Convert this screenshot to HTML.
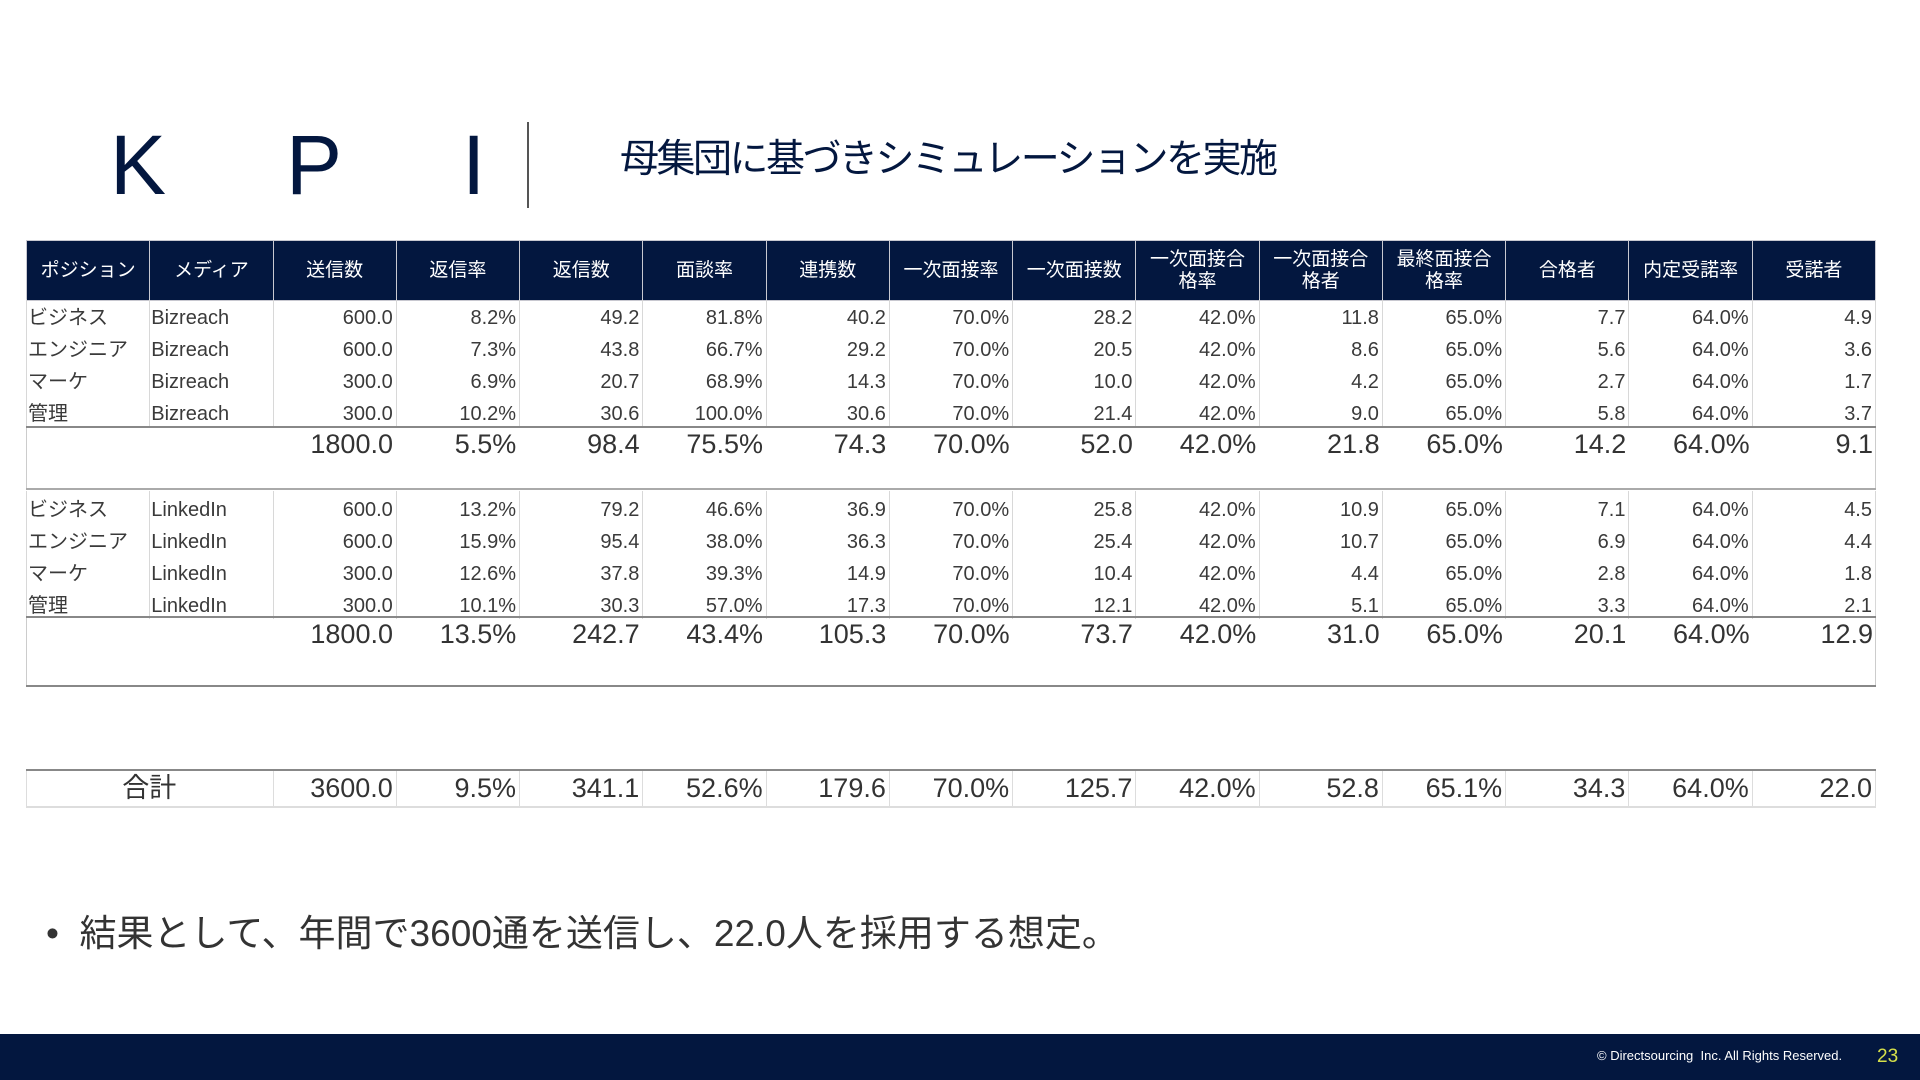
<!DOCTYPE html>
<html><head><meta charset="utf-8"><style>
body{margin:0;width:1920px;height:1080px;position:relative;background:#fff;font-family:"Liberation Sans","Noto Sans CJK JP",sans-serif;overflow:hidden}
.a{position:absolute}
table{position:absolute;left:26px;width:1850px;border-collapse:collapse;table-layout:fixed;color:#333}
td{padding:0 3px 0 2px;white-space:nowrap;overflow:visible;text-align:right;border-left:1px solid #d8d8d8;border-right:1px solid #d8d8d8}
td.l{text-align:left;padding-left:1px}
.r td{box-sizing:border-box;height:32px;padding-top:6px;font-size:20px;line-height:26px;vertical-align:top;color:#3a3a3a}
.h td{background:#03173f;color:#fff;text-align:center;font-size:19px;line-height:22px;height:59px;border:1px solid #c8c8d0;padding:0}
.t td{font-size:27px;line-height:34px;vertical-align:top;border-left:none;border-right:none;color:#333}
</style></head><body>
<div class="a" style="left:110px;top:118px;font-size:84px;color:#03173f;line-height:94px">K</div>
<div class="a" style="left:286px;top:118px;font-size:84px;color:#03173f;line-height:94px">P</div>
<div class="a" style="left:462px;top:118px;font-size:84px;color:#03173f;line-height:94px">I</div>
<div class="a" style="left:527px;top:122px;width:2px;height:86px;background:#555"></div>
<div class="a" style="left:620px;top:136px;font-size:39px;color:#03173f;line-height:48px;letter-spacing:-2.5px">母集団に基づきシミュレーションを実施</div>

<table style="top:240px"><tr class="h"><td>ポジション</td><td>メディア</td><td>送信数</td><td>返信率</td><td>返信数</td><td>面談率</td><td>連携数</td><td>一次面接率</td><td>一次面接数</td><td>一次面接合<br>格率</td><td>一次面接合<br>格者</td><td>最終面接合<br>格率</td><td>合格者</td><td>内定受諾率</td><td>受諾者</td></tr></table>

<table style="top:299px">
<tr class="r"><td class="l">ビジネス</td><td class="l">Bizreach</td><td>600.0</td><td>8.2%</td><td>49.2</td><td>81.8%</td><td>40.2</td><td>70.0%</td><td>28.2</td><td>42.0%</td><td>11.8</td><td>65.0%</td><td>7.7</td><td>64.0%</td><td>4.9</td></tr>
<tr class="r"><td class="l">エンジニア</td><td class="l">Bizreach</td><td>600.0</td><td>7.3%</td><td>43.8</td><td>66.7%</td><td>29.2</td><td>70.0%</td><td>20.5</td><td>42.0%</td><td>8.6</td><td>65.0%</td><td>5.6</td><td>64.0%</td><td>3.6</td></tr>
<tr class="r"><td class="l">マーケ</td><td class="l">Bizreach</td><td>300.0</td><td>6.9%</td><td>20.7</td><td>68.9%</td><td>14.3</td><td>70.0%</td><td>10.0</td><td>42.0%</td><td>4.2</td><td>65.0%</td><td>2.7</td><td>64.0%</td><td>1.7</td></tr>
<tr class="r"><td class="l">管理</td><td class="l">Bizreach</td><td>300.0</td><td>10.2%</td><td>30.6</td><td>100.0%</td><td>30.6</td><td>70.0%</td><td>21.4</td><td>42.0%</td><td>9.0</td><td>65.0%</td><td>5.8</td><td>64.0%</td><td>3.7</td></tr>
</table>
<div class="a" style="left:26px;top:426px;width:1850px;height:2px;background:#888"></div>
<div class="a" style="left:26px;top:428px;width:1px;height:61px;background:#ccc"></div>
<div class="a" style="left:1875px;top:428px;width:1px;height:61px;background:#ccc"></div>
<table style="top:427px"><tr class="t"><td></td><td></td><td>1800.0</td><td>5.5%</td><td>98.4</td><td>75.5%</td><td>74.3</td><td>70.0%</td><td>52.0</td><td>42.0%</td><td>21.8</td><td>65.0%</td><td>14.2</td><td>64.0%</td><td>9.1</td></tr></table>
<div class="a" style="left:26px;top:488px;width:1850px;height:2px;background:#aaa"></div>

<table style="top:491px">
<tr class="r"><td class="l">ビジネス</td><td class="l">LinkedIn</td><td>600.0</td><td>13.2%</td><td>79.2</td><td>46.6%</td><td>36.9</td><td>70.0%</td><td>25.8</td><td>42.0%</td><td>10.9</td><td>65.0%</td><td>7.1</td><td>64.0%</td><td>4.5</td></tr>
<tr class="r"><td class="l">エンジニア</td><td class="l">LinkedIn</td><td>600.0</td><td>15.9%</td><td>95.4</td><td>38.0%</td><td>36.3</td><td>70.0%</td><td>25.4</td><td>42.0%</td><td>10.7</td><td>65.0%</td><td>6.9</td><td>64.0%</td><td>4.4</td></tr>
<tr class="r"><td class="l">マーケ</td><td class="l">LinkedIn</td><td>300.0</td><td>12.6%</td><td>37.8</td><td>39.3%</td><td>14.9</td><td>70.0%</td><td>10.4</td><td>42.0%</td><td>4.4</td><td>65.0%</td><td>2.8</td><td>64.0%</td><td>1.8</td></tr>
<tr class="r"><td class="l">管理</td><td class="l">LinkedIn</td><td>300.0</td><td>10.1%</td><td>30.3</td><td>57.0%</td><td>17.3</td><td>70.0%</td><td>12.1</td><td>42.0%</td><td>5.1</td><td>65.0%</td><td>3.3</td><td>64.0%</td><td>2.1</td></tr>
</table>
<div class="a" style="left:26px;top:616px;width:1850px;height:2px;background:#888"></div>
<div class="a" style="left:26px;top:618px;width:1px;height:68px;background:#ccc"></div>
<div class="a" style="left:1875px;top:618px;width:1px;height:68px;background:#ccc"></div>
<table style="top:617px"><tr class="t"><td></td><td></td><td>1800.0</td><td>13.5%</td><td>242.7</td><td>43.4%</td><td>105.3</td><td>70.0%</td><td>73.7</td><td>42.0%</td><td>31.0</td><td>65.0%</td><td>20.1</td><td>64.0%</td><td>12.9</td></tr></table>
<div class="a" style="left:26px;top:685px;width:1850px;height:2px;background:#888"></div>

<div class="a" style="left:26px;top:769px;width:1850px;height:2px;background:#888"></div>
<table style="top:771px"><tr class="t" style="border-bottom:2px solid #ddd"><td colspan="2" style="text-align:center;border-left:1px solid #ddd;border-right:1px solid #ddd;height:35px">合計</td><td style="border-right:1px solid #ddd">3600.0</td><td style="border-right:1px solid #ddd">9.5%</td><td style="border-right:1px solid #ddd">341.1</td><td style="border-right:1px solid #ddd">52.6%</td><td style="border-right:1px solid #ddd">179.6</td><td style="border-right:1px solid #ddd">70.0%</td><td style="border-right:1px solid #ddd">125.7</td><td style="border-right:1px solid #ddd">42.0%</td><td style="border-right:1px solid #ddd">52.8</td><td style="border-right:1px solid #ddd">65.1%</td><td style="border-right:1px solid #ddd">34.3</td><td style="border-right:1px solid #ddd">64.0%</td><td style="border-right:1px solid #ddd">22.0</td></tr></table>

<div class="a" style="left:46px;top:910px;font-size:37px;line-height:48px;color:#333">•&nbsp; 結果として、年間で3600通を送信し、22.0人を採用する想定。</div>

<div class="a" style="left:0;top:1034px;width:1920px;height:46px;background:#03173f"></div>
<div class="a" style="left:1597px;top:1047px;font-size:13px;line-height:18px;color:#fff">© Directsourcing&nbsp; Inc. All Rights Reserved.</div>
<div class="a" style="left:1877px;top:1045px;font-size:19px;line-height:24px;color:#d6e04a">23</div>
</body></html>
